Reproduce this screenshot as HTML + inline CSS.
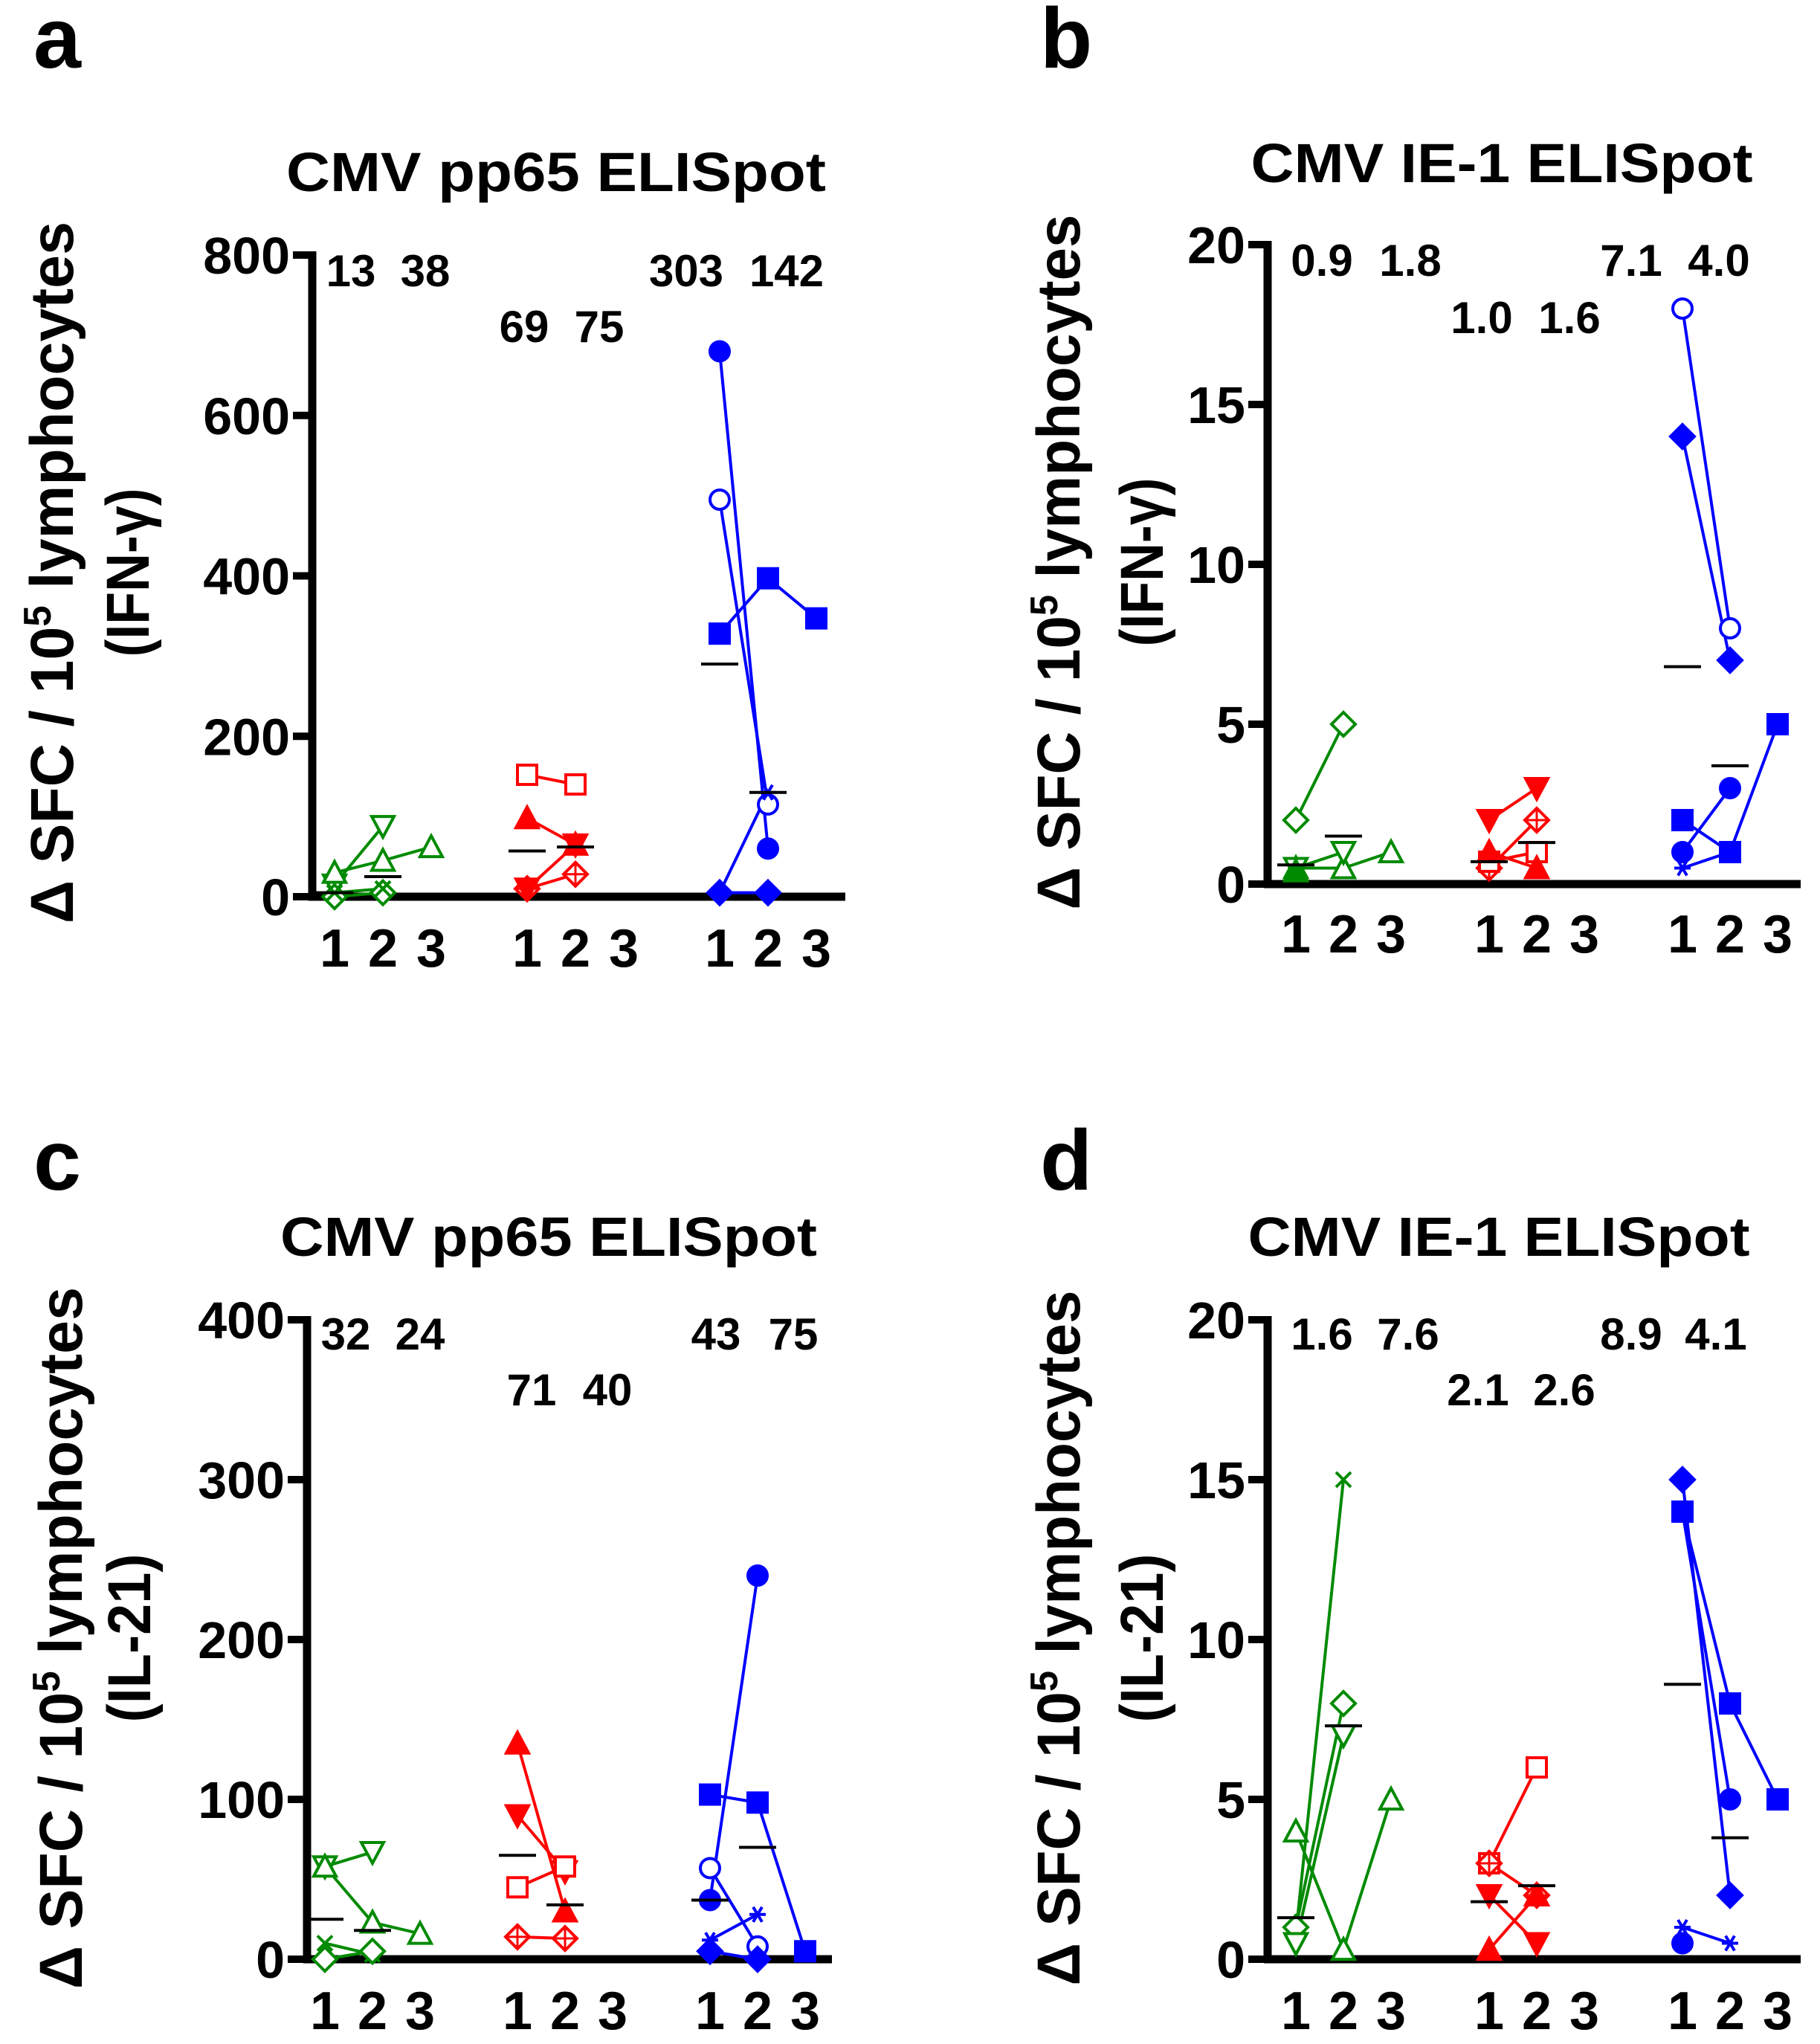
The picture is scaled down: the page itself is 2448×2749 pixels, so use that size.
<!DOCTYPE html>
<html><head><meta charset="utf-8"><style>
html,body{margin:0;padding:0;background:#fff;}
svg{display:block;font-family:"Liberation Sans",Arial,sans-serif;font-weight:bold;}
</style></head><body>
<svg id="fig" width="2448" height="2749" viewBox="0 0 2448 2749" xmlns="http://www.w3.org/2000/svg"></svg>
<script>
// ---- data ----
const timepoints = [1, 2, 3];
const groupColors = ["#008a00", "#ff0000", "#0000ff"];
const annotA = [["13","38"],["69","75"],["303","142"]];
const annotB = [["0.9","1.8"],["1.0","1.6"],["7.1","4.0"]];
const annotC = [["32","24"],["71","40"],["43","75"]];
const annotD = [["1.6","7.6"],["2.1","2.6"],["8.9","4.1"]];
const ticksA = [0,200,400,600,800];
const ticksB = [0,5,10,15,20];
const ticksC = [0,100,200,300,400];
const ticksD = [0,5,10,15,20];
// series: [group, marker, filled, values t1,t2,t3]
const seriesA = [
 [0,"dtri",0,[15,88,null]],[0,"tri",0,[30,45,62]],[0,"dia",0,[0,5,null]],[0,"x",0,[5,10,null]],
 [1,"sq",0,[152,140,null]],[1,"tri",1,[98,65,null]],[1,"diaplus",0,[10,28,null]],[1,"dtri",1,[10,65,null]],
 [2,"circ",1,[680,60,null]],[2,"circ",0,[495,115,null]],[2,"sq",1,[328,397,347]],[2,"dia",1,[5,5,null]],[2,"star",0,[5,130,null]]
];
const mediansA = [[5,25],[57,62],[290,130]];
const seriesB = [
 [0,"dia",0,[2,5,null]],[0,"tri",0,[0.5,0.5,1.0]],[0,"dtri",0,[0.5,1.0,null]],[0,"tri",1,[0.4,null,null]],
 [1,"dtri",1,[2,3,null]],[1,"diaplus",0,[0.5,2,null]],[1,"sq",0,[0.7,1.0,null]],[1,"tri",1,[1.0,0.5,null]],
 [2,"circ",0,[18,8,null]],[2,"dia",1,[14,7,null]],[2,"sq",1,[2,1,5]],[2,"circ",1,[1,3,null]],[2,"star",0,[0.5,1,null]]
];
const mediansB = [[0.6,1.5],[0.7,1.3],[6.8,3.7]];
const seriesC = [
 [0,"dtri",0,[58,67,null]],[0,"tri",0,[58,23,16]],[0,"x",0,[10,3,null]],[0,"dia",0,[0,5,null]],
 [1,"tri",1,[135,30,null]],[1,"dtri",1,[90,55,null]],[1,"sq",0,[45,58,null]],[1,"diaplus",0,[14,13,null]],
 [2,"sq",1,[103,98,5]],[2,"circ",1,[37,240,null]],[2,"circ",0,[57,8,null]],[2,"star",0,[12,28,null]],[2,"dia",1,[5,0,null]]
];
const mediansC = [[25,18],[65,34],[37,70]];
const seriesD = [
 [0,"x",0,[0.8,15,null]],[0,"dia",0,[1,8,null]],[0,"dtri",0,[0.5,7,null]],[0,"tri",0,[4,0.3,5]],
 [1,"sq",0,[3,6,null]],[1,"diaplus",0,[3,2,null]],[1,"dtri",1,[2,0.5,null]],[1,"tri",1,[0.3,2,null]],
 [2,"dia",1,[15,2,null]],[2,"sq",1,[14,8,5]],[2,"circ",1,[14,5,null]],[2,"circ",1,[0.5,null,null]],[2,"star",0,[1,0.5,null]]
];
const mediansD = [[1.3,7.3],[1.8,2.3],[8.6,3.8]];

// ---- render ----
const NS="http://www.w3.org/2000/svg";
const svg=document.getElementById("fig");
function el(tag,attrs,parent){const e=document.createElementNS(NS,tag);for(const k in attrs)e.setAttribute(k,attrs[k]);(parent||svg).appendChild(e);return e;}

function marker(g,type,filled,cx,cy,color){
  const s=13, fill=filled?color:"#fff", sw=4;
  let m;
  if(type==="circ") m=el("circle",{cx,cy,r:s,fill,stroke:color,"stroke-width":sw},g);
  else if(type==="sq") m=el("rect",{x:cx-s,y:cy-s,width:2*s,height:2*s,fill,stroke:color,"stroke-width":sw},g);
  else if(type==="tri") m=el("polygon",{points:`${cx},${cy-s-2} ${cx+s+2},${cy+s} ${cx-s-2},${cy+s}`,fill,stroke:color,"stroke-width":sw},g);
  else if(type==="dtri") m=el("polygon",{points:`${cx},${cy+s+2} ${cx+s+2},${cy-s} ${cx-s-2},${cy-s}`,fill,stroke:color,"stroke-width":sw},g);
  else if(type==="dia"||type==="diaplus"){
    m=el("polygon",{points:`${cx},${cy-s-3} ${cx+s+3},${cy} ${cx},${cy+s+3} ${cx-s-3},${cy}`,fill,stroke:color,"stroke-width":sw},g);
    if(type==="diaplus") el("path",{d:`M${cx-s} ${cy}H${cx+s}M${cx} ${cy-s}V${cy+s}`,stroke:color,"stroke-width":3},g);
  }
  else if(type==="x") m=el("path",{d:`M${cx-10} ${cy-10}L${cx+10} ${cy+10}M${cx+10} ${cy-10}L${cx-10} ${cy+10}`,stroke:color,"stroke-width":4},g);
  else if(type==="star") m=el("path",{d:`M${cx-11} ${cy}H${cx+11}M${cx-6} ${cy-10}L${cx+6} ${cy+10}M${cx+6} ${cy-10}L${cx-6} ${cy+10}`,stroke:color,"stroke-width":4},g);
  
  
}

function panel(P){
  const g=el("g",{});
  
  
  const yS=v=>P.y0-(v/P.vmax)*(P.y0-P.yTop);
  const xS=(grp,t)=>P.x0+grp*P.gOff+(t-1)*P.tOff;
  const L=el("text",{x:P.lx,y:P.ly,"font-size":115},g);L.textContent=P.letter;
  
  const T=el("text",{x:P.tx,y:P.ty,"font-size":74,"text-anchor":"middle",textLength:P.tw,lengthAdjust:"spacingAndGlyphs"},g);T.textContent=P.title;
  
  const Y1=el("text",{x:0,y:0,"font-size":82,"text-anchor":"middle",transform:`translate(${P.yt1x},${P.ytc}) rotate(-90)`,textLength:P.ytLen,lengthAdjust:"spacingAndGlyphs"},g);
  Y1.innerHTML='Δ SFC / 10<tspan dy="-30" font-size="52">5</tspan><tspan dy="30"> lymphocytes</tspan>';
  
  const Y2=el("text",{x:0,y:0,"font-size":82,"text-anchor":"middle",transform:`translate(${P.yt2x},${P.ytc}) rotate(-90)`,textLength:227,lengthAdjust:"spacingAndGlyphs"},g);
  Y2.textContent=P.ysub;
  
  const ya=el("line",{x1:P.ax,y1:P.yTop-5,x2:P.ax,y2:P.y0+5,stroke:"#000","stroke-width":11},g);
  
  const xa=el("line",{x1:P.ax-5,y1:P.y0,x2:P.axEnd,y2:P.y0,stroke:"#000","stroke-width":11},g);
  
  P.ticks.forEach(v=>{
    const y=yS(v);
    el("line",{x1:P.ax-26,y1:y,x2:P.ax,y2:y,stroke:"#000","stroke-width":10},g);
    const t=el("text",{x:P.ax-30,y:y+25,"font-size":70,"text-anchor":"end"},g);t.textContent=v;
    
  });
  for(let grp=0;grp<3;grp++){
    timepoints.forEach(t=>{
      const c=el("text",{x:xS(grp,t),y:P.cy,"font-size":72,"text-anchor":"middle"},g);c.textContent=t;
      
    });
    P.annot[grp].forEach((s,i)=>{
      const a=el("text",{x:P.annX[grp][i],y:grp===1?P.ar2:P.ar1,"font-size":60,"text-anchor":"middle"},g);a.textContent=s;
      
    });
  }
  P.series.forEach(s=>{
    const [grp,type,filled,vals]=s, col=groupColors[grp];
    const pts=[];vals.forEach((v,i)=>{if(v!==null)pts.push([xS(grp,i+1),yS(v)]);});
    if(pts.length>1){const pl=el("polyline",{points:pts.map(p=>p.join(",")).join(" "),fill:"none",stroke:col,"stroke-width":4},g);
      }
  });
  P.series.forEach(s=>{
    const [grp,type,filled,vals]=s, col=groupColors[grp];
    vals.forEach((v,i)=>{if(v!==null)marker(g,type,filled,xS(grp,i+1),yS(v),col);});
  });
  P.medians.forEach((m,grp)=>m.forEach((v,i)=>{
    const x=xS(grp,i+1),y=yS(v);
    const ml=el("line",{x1:x-25,y1:y,x2:x+25,y2:y,stroke:"#000","stroke-width":4},g);
    
  }));
}

panel({letter:"a",lx:45,ly:91,title:"CMV pp65 ELISpot",tx:748,ty:257,tw:726,
 yt1x:98,yt2x:200,ytc:770,ytLen:944,ysub:"(IFN-γ)",
 ax:420,y0:1206,yTop:343,vmax:800,axEnd:1137,x0:450,gOff:259,tOff:65,cy:1300,
 ticks:ticksA,annot:annotA,annX:[[472,572],[705,806],[923,1058]],ar1:385,ar2:460,series:seriesA,medians:mediansA});
panel({letter:"b",lx:1399,ly:91,title:"CMV IE-1 ELISpot",tx:2020,ty:245,tw:675,
 yt1x:1452,yt2x:1564,ytc:756,ytLen:935,ysub:"(IFN-γ)",
 ax:1705,y0:1189,yTop:329,vmax:20,axEnd:2422,x0:1743,gOff:260,tOff:64,cy:1281,
 ticks:ticksB,annot:annotB,annX:[[1778,1897],[1993,2111],[2194,2312]],ar1:371,ar2:448,series:seriesB,medians:mediansB});
panel({letter:"c",lx:45,ly:1600,title:"CMV pp65 ELISpot",tx:738,ty:1689,tw:722,
 yt1x:110,yt2x:202,ytc:2203,ytLen:944,ysub:"(IL-21)",
 ax:413,y0:2635,yTop:1775,vmax:400,axEnd:1119,x0:437,gOff:259,tOff:64,cy:2729,
 ticks:ticksC,annot:annotC,annX:[[465,565],[715,817],[963,1067]],ar1:1815,ar2:1890,series:seriesC,medians:mediansC});
panel({letter:"d",lx:1399,ly:1600,title:"CMV IE-1 ELISpot",tx:2016,ty:1689,tw:675,
 yt1x:1452,yt2x:1564,ytc:2203,ytLen:935,ysub:"(IL-21)",
 ax:1705,y0:2635,yTop:1775,vmax:20,axEnd:2422,x0:1743,gOff:260,tOff:64,cy:2729,
 ticks:ticksD,annot:annotD,annX:[[1778,1894],[1988,2104],[2194,2308]],ar1:1815,ar2:1890,series:seriesD,medians:mediansD});
</script>
</body></html>
